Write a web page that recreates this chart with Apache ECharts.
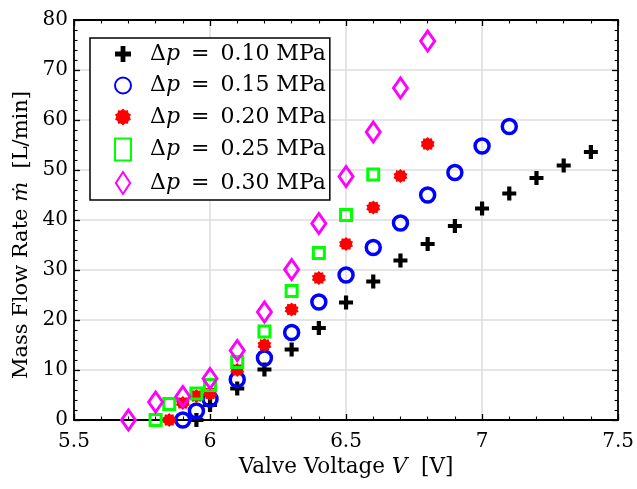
<!DOCTYPE html>
<html>
<head>
<meta charset="utf-8">
<script src="https://cdn.jsdelivr.net/npm/echarts@6/dist/echarts.min.js"></script>
<style>
  html, body { margin: 0; padding: 0; background: #fff; }
  #chart { width: 637px; height: 489px; }
</style>
</head>
<body>
<div id="chart"></div>
<script>
// Valve voltage (V) and measured flow rate (L/min) for each pressure drop
const volt010 = [5.95, 6.0, 6.1, 6.2, 6.3, 6.4, 6.5, 6.6, 6.7, 6.8, 6.9, 7.0, 7.1, 7.2, 7.3, 7.4];
const flow010 = [0, 3.0, 6.3, 10.1, 14.1, 18.4, 23.5, 27.7, 31.9, 35.2, 38.8, 42.3, 45.3, 48.4, 50.9, 53.6];

const volt015 = [5.9, 5.95, 6.0, 6.1, 6.2, 6.3, 6.4, 6.5, 6.6, 6.7, 6.8, 6.9, 7.0, 7.1];
const flow015 = [0, 1.8, 4.2, 8.1, 12.4, 17.5, 23.6, 29.0, 34.5, 39.4, 45.0, 49.5, 54.8, 58.7];

const volt020 = [5.85, 5.9, 5.95, 6.0, 6.1, 6.2, 6.3, 6.4, 6.5, 6.6, 6.7, 6.8];
const flow020 = [0, 3.4, 4.8, 5.3, 10.0, 15.0, 22.1, 28.4, 35.2, 42.5, 48.8, 55.2];

const volt025 = [5.8, 5.85, 5.95, 6.0, 6.1, 6.2, 6.3, 6.4, 6.5, 6.6];
const flow025 = [0, 3.2, 5.3, 7.0, 11.6, 17.7, 25.8, 33.4, 41.0, 49.1];

const volt030 = [5.7, 5.8, 5.9, 6.0, 6.1, 6.2, 6.3, 6.4, 6.5, 6.6, 6.7, 6.8];
const flow030 = [0, 3.6, 4.7, 8.3, 13.9, 21.6, 30.1, 39.3, 48.7, 57.6, 66.4, 75.8];

const pressures = ['0.10', '0.15', '0.20', '0.25', '0.30'];

const FONT = '"DejaVu Serif", "Liberation Serif", serif';

// Marker shapes
const plusPath = 'path://M3.5,0H6.5V3.5H10V6.5H6.5V10H3.5V6.5H0V3.5H3.5Z';
function starPath(n, rIn) {
  let d = '';
  for (let i = 0; i < 2 * n; i++) {
    const a = i * Math.PI / n - Math.PI / 2;
    const r = i % 2 ? rIn : 1;
    const px = (10 + 10 * r * Math.cos(a)).toFixed(3);
    const py = (10 + 10 * r * Math.sin(a)).toFixed(3);
    d += (i === 0 ? 'M' : 'L') + px + ',' + py;
  }
  return 'path://' + d + 'Z';
}
const asteriskPath = starPath(10, 0.8);
const diamondPath = 'path://M6.5,0L13,10L6.5,20L0,10Z';

function pairs(xs, ys) { return xs.map((x, i) => [x, ys[i]]); }
const seriesName = p => 'Δp = ' + p + ' MPa';

const chart = echarts.init(document.getElementById('chart'), null, { renderer: 'canvas' });

const richText = size => ({
  a: { fontFamily: FONT, fontSize: size, color: '#000' },
  i: { fontFamily: FONT, fontSize: size, fontStyle: 'italic', color: '#000' },
  s: { fontFamily: FONT, fontSize: size, color: '#000', padding: [0, 4, 0, 4] },
  e: { fontFamily: FONT, fontSize: size, color: '#000', padding: [0, 30, 0, 0] }
});

const axisCommon = {
  axisLine: { show: true, onZero: false, lineStyle: { color: '#000', width: 1.8 } },
  axisTick: { show: true, inside: true, length: 6, lineStyle: { color: '#000', width: 1.3 } },
  minorTick: { show: true, splitNumber: 5, length: 3.5, lineStyle: { color: '#000', width: 1.1 } },
  axisLabel: { color: '#000', fontFamily: FONT, fontSize: 20 }
};

const option = {
  backgroundColor: '#fff',
  animation: false,
  grid: { left: 74, right: 14, top: 20, bottom: 69, containLabel: false },
  legend: {
    orient: 'vertical',
    left: 90,
    top: 38,
    itemWidth: 16,
    itemHeight: 22,
    itemGap: 9.5,
    padding: [5, 4, 5, 24],
    backgroundColor: '#fff',
    borderColor: '#000',
    borderWidth: 1.5,
    borderRadius: 0,
    formatter: name => {
      const i = pressures.map(seriesName).indexOf(name);
      return '{a|Δ}{i|p}{s| = }{a|' + pressures[i] + ' MPa}';
    },
    textStyle: {
      color: '#000',
      fontFamily: FONT,
      fontSize: 22,
      lineHeight: 22,
      padding: [0, 0, 0, 14],
      rich: richText(22)
    },
    data: pressures.map(seriesName)
  },
  xAxis: [
    Object.assign({}, axisCommon, {
      type: 'value', min: 5.5, max: 7.5, interval: 0.5, position: 'bottom',
      splitLine: { show: true, lineStyle: { color: '#dcdcdc', width: 1.5 } },
      axisLabel: Object.assign({}, axisCommon.axisLabel, { margin: 12 }),
      name: '{a|Valve Voltage }{i|V}{a|  [V]}',
      nameLocation: 'middle',
      nameGap: 33,
      nameTextStyle: { verticalAlign: 'top', rich: richText(21.5) }
    }),
    Object.assign({}, axisCommon, {
      type: 'value', min: 5.5, max: 7.5, interval: 0.5, position: 'top',
      splitLine: { show: false },
      axisLabel: { show: false }
    })
  ],
  yAxis: [
    Object.assign({}, axisCommon, {
      type: 'value', min: 0, max: 80, interval: 10, position: 'left',
      splitLine: { show: true, lineStyle: { color: '#dcdcdc', width: 1.5 } },
      axisLabel: Object.assign({}, axisCommon.axisLabel, { margin: 6 }),
      name: '{a|Mass Flow Rate }{i|ṁ}{e|  [L/min]}',
      nameLocation: 'middle',
      nameGap: 40,
      nameRotate: 90,
      nameTextStyle: { rich: richText(21) }
    }),
    Object.assign({}, axisCommon, {
      type: 'value', min: 0, max: 80, interval: 10, position: 'right',
      splitLine: { show: false },
      axisLabel: { show: false }
    })
  ],
  series: [
    {
      name: seriesName('0.10'), type: 'scatter',
      data: pairs(volt010, flow010),
      symbol: plusPath, symbolSize: 14,
      itemStyle: { color: '#000', opacity: 1 }
    },
    {
      name: seriesName('0.15'), type: 'scatter',
      data: pairs(volt015, flow015),
      symbol: 'circle', symbolSize: 14,
      itemStyle: { color: 'rgba(0,0,0,0)', borderColor: '#0000ff', borderWidth: 3.5, opacity: 1 }
    },
    {
      name: seriesName('0.20'), type: 'scatter',
      data: pairs(volt020, flow020),
      symbol: asteriskPath, symbolSize: 14,
      itemStyle: { color: '#ff0000', opacity: 1 }
    },
    {
      name: seriesName('0.25'), type: 'scatter',
      data: pairs(volt025, flow025),
      symbol: 'rect', symbolSize: 11,
      itemStyle: { color: 'rgba(0,0,0,0)', borderColor: '#00ff00', borderWidth: 3, opacity: 1 }
    },
    {
      name: seriesName('0.30'), type: 'scatter',
      data: pairs(volt030, flow030),
      symbol: diamondPath, symbolSize: [14, 20],
      itemStyle: { color: 'rgba(0,0,0,0)', borderColor: '#ff00ff', borderWidth: 3, opacity: 1 }
    }
  ]
};

chart.setOption(option);
</script>
</body>
</html>
